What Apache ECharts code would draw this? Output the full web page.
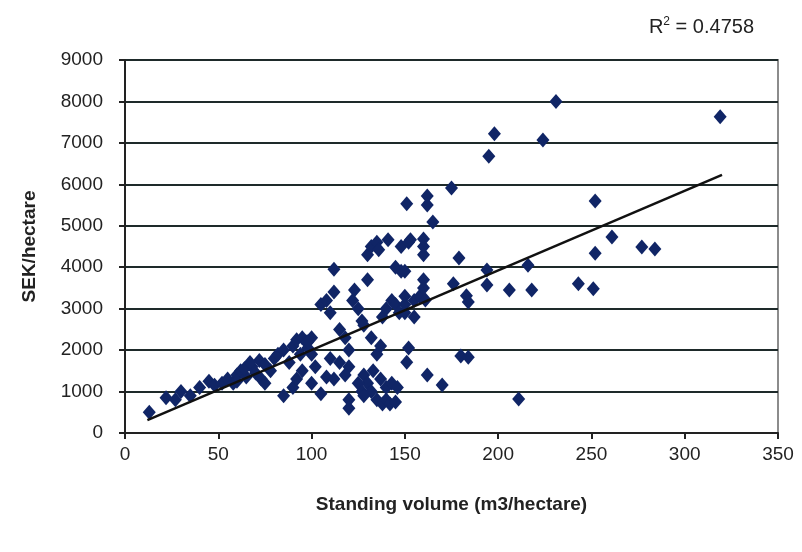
<!DOCTYPE html>
<html>
<head>
<meta charset="utf-8">
<script src="https://cdn.jsdelivr.net/npm/echarts@6/dist/echarts.min.js"></script>
<style>html,body{margin:0;padding:0;background:#fff}#c{width:802px;height:552px}</style>
</head>
<body>
<div id="c"></div>
<script>
// Standing volume (m3/hectare)
const volume = [
 13,22,27,30,35,40,45,48,52,55,58,60,62,65,68,70,72,75,78,80,82,85,88,90,92,95,97,100,100,98,60,73,75,64,67,
 85,90,92,95,100,102,105,108,110,94,98,
 105,108,112,110,112,115,118,120,120,120,120,122,123,125,127,128,130,132,135,130,128,130,132,135,138,140,142,145,
 133,137,140,143,146,138,140,143,145,147,148,150,150,150,152,155,155,158,160,160,160,160,148,150,
 125,127,118,115,112,135,137,132,128,
 151,153,141,136,145,162,162,165,160,161,162,170,180,184,152,151,
 175,176,183,184,179,194,194,206,216,218,211,
 195,198,224,231,243,251,252,252,261,277,284,319
];
// SEK/hectare
const sek = [
 500,850,800,1000,900,1100,1250,1150,1200,1300,1200,1400,1500,1350,1600,1450,1750,1650,1500,1800,1900,2000,1700,2100,2250,2300,2200,2300,1900,2050,1250,1300,1200,1550,1700,
 900,1100,1300,1500,1200,1600,950,1350,1800,1900,2200,
 3100,3200,3400,2900,3950,2500,2300,2000,1600,800,600,3200,3450,3000,2700,2600,4300,4500,4600,3700,1400,1200,1000,800,700,800,700,750,
 1500,1300,1100,1200,1100,2800,3000,3200,3100,2900,4500,3300,2900,3100,4600,3200,2800,3300,3700,4300,4500,3500,3900,3900,
 1200,1000,1400,1700,1300,1900,2100,2300,900,
 5530,4660,4660,4420,4000,5720,5500,5090,4680,3210,1400,1160,1860,1830,2050,1710,
 5910,3600,3310,3160,4220,3930,3570,3450,4050,3450,820,
 6680,7220,7070,8000,3600,3480,5600,4340,4730,4490,4440,7630
];
// Trend line end points
const trendX = [12, 320];
const trendY = [310, 6230];
const xTicks = [0, 50, 100, 150, 200, 250, 300, 350];
const yTicks = [0, 1000, 2000, 3000, 4000, 5000, 6000, 7000, 8000, 9000];
const r2Text = '0.4758';

const points = volume.map((v, i) => [v, sek[i]]);
const trend = trendX.map((v, i) => [v, trendY[i]]);

const chart = echarts.init(document.getElementById('c'), null, {renderer: 'canvas'});
chart.setOption({
  backgroundColor: '#ffffff',
  animation: false,
  grid: {left: 125, right: 24, top: 60, bottom: 119, show: true, borderColor: '#8c8c8c', borderWidth: 2, backgroundColor: 'transparent'},
  xAxis: {
    type: 'value', min: xTicks[0], max: xTicks[xTicks.length - 1], interval: 50,
    name: 'Standing volume (m3/hectare)', nameLocation: 'middle', nameGap: 62,
    nameTextStyle: {fontFamily: 'Liberation Sans', fontWeight: 'bold', fontSize: 19, color: '#222'},
    axisLine: {show: true, onZero: false, lineStyle: {color: '#222', width: 2}},
    axisTick: {show: true, inside: false, length: 6, lineStyle: {color: '#222', width: 2}},
    axisLabel: {fontFamily: 'Liberation Sans', fontSize: 19, color: '#222', margin: 12, formatter: v => String(v)},
    splitLine: {show: false}
  },
  yAxis: {
    type: 'value', min: yTicks[0], max: yTicks[yTicks.length - 1], interval: 1000,
    name: 'SEK/hectare', nameLocation: 'middle', nameGap: 86, nameRotate: 90,
    nameTextStyle: {fontFamily: 'Liberation Sans', fontWeight: 'bold', fontSize: 19, color: '#222'},
    axisLine: {show: true, lineStyle: {color: '#222', width: 2}},
    axisTick: {show: true, inside: false, length: 6, lineStyle: {color: '#222', width: 2}},
    axisLabel: {fontFamily: 'Liberation Sans', fontSize: 19, color: '#222', margin: 22, formatter: v => String(v)},
    splitLine: {show: true, lineStyle: {color: '#1e2a2a', width: 2}}
  },
  graphic: [{
    type: 'text', right: 48, top: 16,
    style: {
      text: '{r|R}{s|2}{r| = ' + r2Text + '}',
      rich: {
        r: {fontFamily: 'Liberation Sans', fontSize: 20, fill: '#222'},
        s: {fontFamily: 'Liberation Sans', fontSize: 12, fill: '#222', verticalAlign: 'top', padding: [0, 0, 10, 0]}
      }
    }
  }],
  series: [
    {
      type: 'scatter', data: points, symbol: 'diamond', symbolSize: [13, 15],
      itemStyle: {color: '#102566', opacity: 1}
    },
    {
      type: 'line', data: trend, symbol: 'none', z: 5,
      lineStyle: {color: '#111', width: 2.5}
    }
  ]
});
</script>
</body>
</html>
